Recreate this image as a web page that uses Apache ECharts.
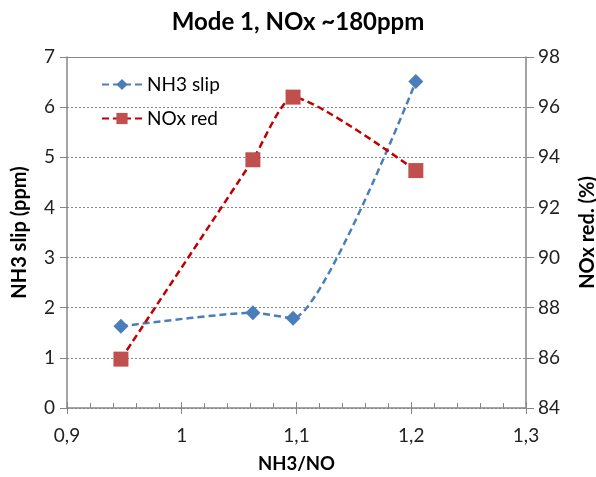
<!DOCTYPE html>
<html><head><meta charset="utf-8">
<script src="https://cdn.jsdelivr.net/npm/echarts@6/dist/echarts.min.js"></script>
<style>html,body{margin:0;padding:0;background:#fff}#c{width:596px;height:477px}</style>
</head><body><div id="c"></div>
<script>
const title = 'Mode 1, NOx ~180ppm';
const ratio = [0.947, 1.062, 1.097, 1.204];
const nh3Slip = [1.63, 1.90, 1.79, 6.51];
const noxRed = [85.95, 93.9, 96.4, 93.47];
const seriesNames = ['NH3 slip', 'NOx red'];
const xName = 'NH3/NO', yLeftName = 'NH3 slip (ppm)', yRightName = 'NOx red. (%)';

const FONT = 'Lato';
const fmt = v => String(+v.toFixed(2)).replace('.', ',');
const chart = echarts.init(document.getElementById('c'));
const axisColor = '#868686';
chart.setOption({
  animation: false,
  textStyle: { fontFamily: FONT },
  title: { text: title, left: 'center', top: 5,
    textStyle: { fontFamily: FONT, fontSize: 24, fontWeight: 'bold', color: '#000' } },
  grid: { left: 67, right: 70, top: 57, bottom: 69, containLabel: false, outerBoundsMode: 'none' },
  legend: { orient: 'vertical', left: 96, top: 70, itemGap: 15, itemWidth: 40, itemHeight: 14,
    textStyle: { fontFamily: FONT, fontSize: 19, color: '#000' } },
  xAxis: [
    { type: 'value', min: 0.9, max: 1.3, interval: 0.1, name: xName, nameLocation: 'middle', nameGap: 47,
      nameTextStyle: { fontFamily: FONT, fontSize: 18.5, fontWeight: 'bold', color: '#000' },
      axisLine: { lineStyle: { color: axisColor, width: 1.5 } },
      axisTick: { show: true, inside: true, length: 6, lineStyle: { color: axisColor } },
      minorTick: { show: true, splitNumber: 5, length: 5, lineStyle: { color: axisColor } },
      splitLine: { show: false },
      axisLabel: { formatter: fmt, margin: 18, fontFamily: FONT, fontSize: 19, color: '#222' } },
    { type: 'value', min: 0.9, max: 1.3, interval: 0.1, position: 'bottom',
      axisLine: { show: false }, axisLabel: { show: false }, splitLine: { show: false },
      axisTick: { show: true, inside: false, length: 6, lineStyle: { color: axisColor } } },
    { type: 'value', min: 0.9, max: 1.3, interval: 0.1, position: 'top',
      axisLine: { show: true, lineStyle: { color: axisColor, width: 1 } },
      axisLabel: { show: false }, axisTick: { show: false }, splitLine: { show: false } }
  ],
  yAxis: [
    { type: 'value', min: 0, max: 7, interval: 1, name: yLeftName, nameLocation: 'middle', nameGap: 37, nameRotate: 90,
      nameTextStyle: { fontFamily: FONT, fontSize: 20, fontWeight: 'bold', color: '#000' },
      axisLine: { show: true, lineStyle: { color: axisColor, width: 1.5 } },
      axisTick: { show: true, length: 7, lineStyle: { color: axisColor } },
      splitLine: { show: true, lineStyle: { color: '#888', type: [2, 2], width: 1 } },
      axisLabel: { margin: 12, fontFamily: FONT, fontSize: 19, color: '#222' } },
    { type: 'value', min: 84, max: 98, interval: 2, position: 'right', name: yRightName, nameLocation: 'middle', nameGap: 52, nameRotate: 90,
      nameTextStyle: { fontFamily: FONT, fontSize: 20, fontWeight: 'bold', color: '#000' },
      axisLine: { show: true, lineStyle: { color: axisColor, width: 1.5 } },
      axisTick: { show: true, length: 8, lineStyle: { color: axisColor } },
      splitLine: { show: false },
      axisLabel: { margin: 12, fontFamily: FONT, fontSize: 19, color: '#222' } }
  ],
  series: [
    { name: seriesNames[0], type: 'line', xAxisIndex: 0, yAxisIndex: 0, smooth: 0.2,
      data: ratio.map((x, i) => [x, nh3Slip[i]]),
      symbol: 'diamond', symbolSize: 15,
      lineStyle: { color: '#4A7EBB', width: 2.5, type: [7, 4] },
      itemStyle: { color: '#4A7EBB' } },
    { name: seriesNames[1], type: 'line', xAxisIndex: 0, yAxisIndex: 1, smooth: 0.2,
      data: ratio.map((x, i) => [x, noxRed[i]]),
      symbol: 'rect', symbolSize: 15,
      lineStyle: { color: '#C00000', width: 2.5, type: [7, 4] },
      itemStyle: { color: '#C0504D' } }
  ]
});
</script></body></html>
